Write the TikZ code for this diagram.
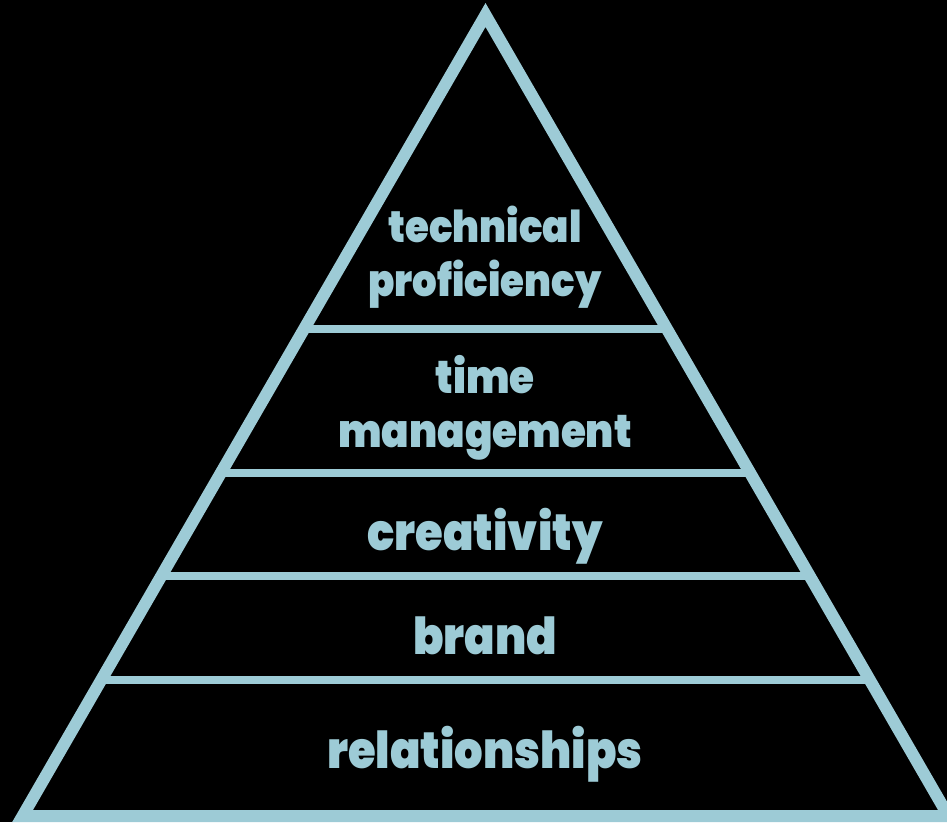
\documentclass[tikz,border=0pt]{standalone}
\usepackage{fontspec}
\setmainfont{Poppins}[BoldFont={* Black}]
\usetikzlibrary{calc}
\definecolor{pyrblue}{HTML}{9DCBD6}
\tikzset{
  side/.style={draw=pyrblue, line width=12pt, line join=miter, miter limit=10},
  divider/.style={draw=pyrblue, line width=8pt},
  tier/.style={text=pyrblue, anchor=base, inner sep=0pt, xscale=0.88, transform shape},
  bigtier/.style={tier, font=\bfseries\fontsize{51}{60}\selectfont},
  midtier/.style={tier, font=\bfseries\fontsize{46}{54}\selectfont},
  smalltier/.style={tier, font=\bfseries\fontsize{44}{52}\selectfont}
}
\begin{document}
\begin{tikzpicture}[x=1pt,y=-1pt]
  % canvas
  \fill[black] (0,0) rectangle (947,822);
  \useasboundingbox (0,0) rectangle (947,822);

  % triangle corners (centre line of the outline)
  \coordinate (apex)  at (485.5,15);
  \coordinate (baseL) at (22.6,816);
  \coordinate (baseR) at (948.4,816);

  % divider end points on both sides
  \coordinate (d1L) at ($(apex)!0.392!(baseL)$);
  \coordinate (d1R) at ($(apex)!0.392!(baseR)$);
  \coordinate (d2L) at ($(apex)!0.5718!(baseL)$);
  \coordinate (d2R) at ($(apex)!0.5718!(baseR)$);
  \coordinate (d3L) at ($(apex)!0.7004!(baseL)$);
  \coordinate (d3R) at ($(apex)!0.7004!(baseR)$);
  \coordinate (d4L) at ($(apex)!0.8302!(baseL)$);
  \coordinate (d4R) at ($(apex)!0.8302!(baseR)$);

  \draw[divider] (d1L) -- (d1R);
  \draw[divider] (d2L) -- (d2R);
  \draw[divider] (d3L) -- (d3R);
  \draw[divider] (d4L) -- (d4R);

  \draw[side] (apex) -- (baseL) -- (baseR) -- cycle;

  % tier labels
  \node[smalltier] (tech)  at (485,242) {technical};
  \node[smalltier] (prof)  at (485,296) {proficiency};
  \node[midtier]   (time)  at (485,393) {time};
  \node[midtier]   (mgmt)  at (485,447) {management};
  \node[bigtier]   (crea)  at (485,550) {creativity};
  \node[bigtier]   (brand) at (485,654) {brand};
  \node[bigtier]   (rel)   at (485,768) {relationships};
\end{tikzpicture}
\end{document}
